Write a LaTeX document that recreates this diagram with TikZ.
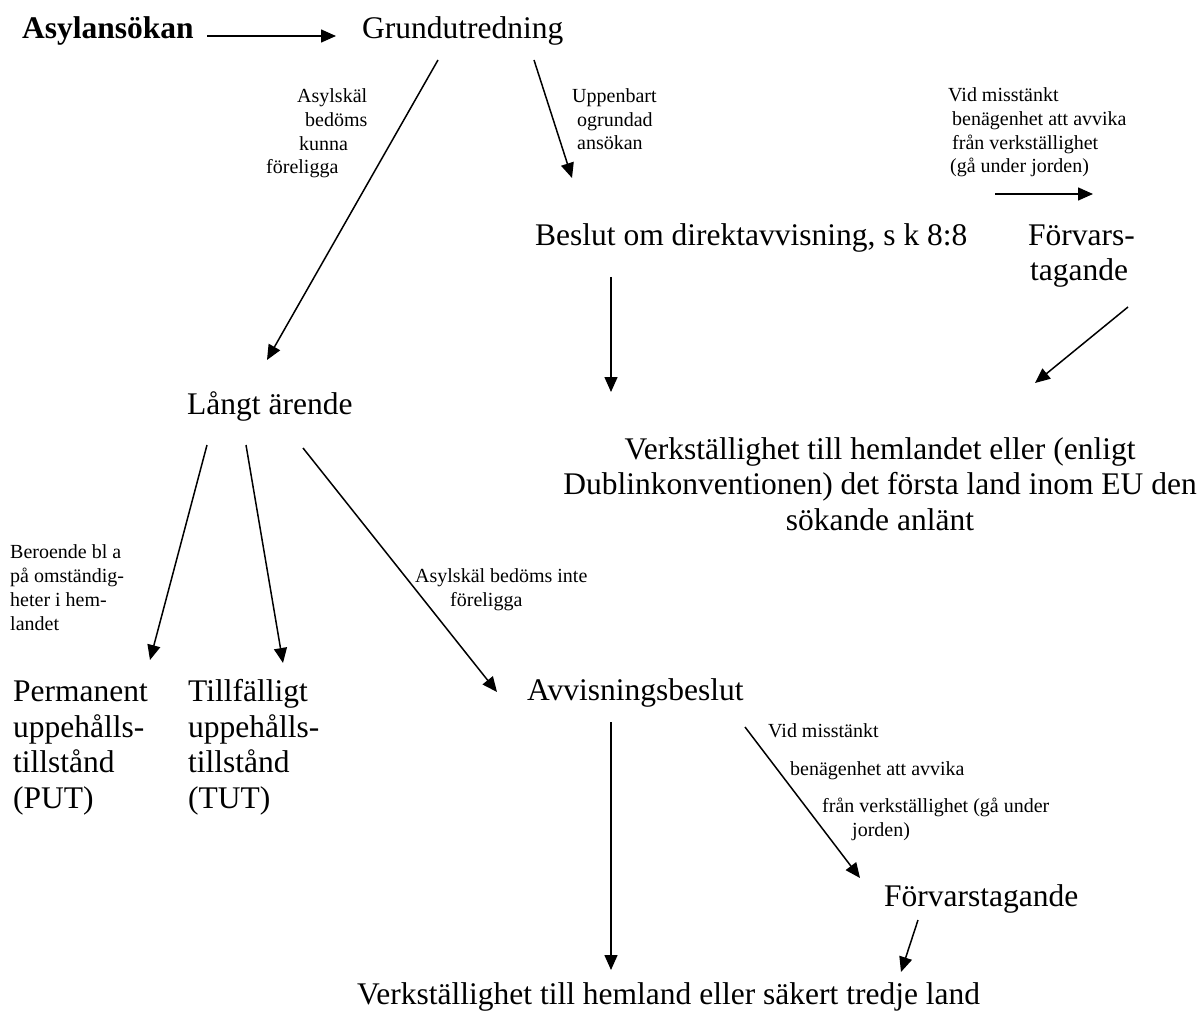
\documentclass[tikz,border=0pt]{standalone}
\usepackage{fontspec}
\setmainfont{Liberation Serif}
\usetikzlibrary{arrows.meta}
\begin{document}
\begin{tikzpicture}[x=1pt,y=-1pt,
  big/.style={inner sep=0pt, anchor=base west, font=\fontsize{31.5}{35.5}\selectfont, align=left},
  small/.style={inner sep=0pt, anchor=base west, font=\fontsize{20}{23.7}\selectfont, align=left},
  arr/.style={line width=1.5pt, -{Triangle[length=15pt,width=13pt]}}]
\useasboundingbox (0,0) rectangle (1203,1019);

% main nodes (multi-line nodes: base = baseline of last line)
\node[big, font=\fontsize{31.5}{35.5}\selectfont\bfseries] (asyl) at (22,39) {Asylansökan};
\node[big] (grund) at (362,39) {Grundutredning};
\node[big] (beslut) at (535,246) {Beslut om direktavvisning, s k 8:8};
\node[big] (forv1) at (1028,281) {Förvars-\\\hspace*{2pt}tagande};
\node[big, align=center, anchor=base] (verk1) at (880,530) {Verkställighet till hemlandet eller (enligt\\Dublinkonventionen) det första land inom EU den\\sökande anlänt};
\node[big] (langt) at (187,414) {Långt ärende};
\node[big] (put) at (13,808) {Permanent\\uppehålls-\\tillstånd\\(PUT)};
\node[big] (tut) at (188,808) {Tillfälligt\\uppehålls-\\tillstånd\\(TUT)};
\node[big] (avv) at (527,700) {Avvisningsbeslut};
\node[big] (forv2) at (884,906) {Förvarstagande};
\node[big] (verk2) at (357,1004) {Verkställighet till hemland eller säkert tredje land};

% labels
\node[small] (l1) at (266,174) {\hspace*{31pt}Asylskäl\\\hspace*{39pt}bedöms\\\hspace*{33pt}kunna\\föreligga};
\node[small] (l2) at (572,150) {Uppenbart\\\hspace*{5pt}ogrundad\\\hspace*{5pt}ansökan};
\node[small] (l3) at (948,173) {Vid misstänkt\\\hspace*{4pt}benägenhet att avvika\\\hspace*{4pt}från verkställighet\\\hspace*{2pt}(gå under jorden)};
\node[small] (l4) at (10,630) {Beroende bl a\\på omständig-\\heter i hem-\\landet};
\node[small] (l5) at (415,606) {Asylskäl bedöms inte\\\hspace*{35pt}föreligga};
\node[small] (l6) at (768,836) {Vid misstänkt\\[14pt]\hspace*{22pt}benägenhet att avvika\\[13pt]\hspace*{54pt}från verkställighet (gå under\\\hspace*{84pt}jorden)};

% arrow endpoints
\coordinate (a1s) at (207,36);   \coordinate (a1e) at (336,36);
\coordinate (a2s) at (438,60);   \coordinate (a2e) at (267,360);
\coordinate (a3s) at (534,60);   \coordinate (a3e) at (572,178);
\coordinate (a4s) at (995,194);  \coordinate (a4e) at (1093,194);
\coordinate (a5s) at (611,277);  \coordinate (a5e) at (611,392);
\coordinate (a6s) at (1128,307); \coordinate (a6e) at (1035,383);
\coordinate (a7s) at (207,445);  \coordinate (a7e) at (150,660);
\coordinate (a8s) at (246,445);  \coordinate (a8e) at (283,663);
\coordinate (a9s) at (303,448);  \coordinate (a9e) at (497,692);
\coordinate (a10s) at (611,722); \coordinate (a10e) at (611,970);
\coordinate (a11s) at (745,727); \coordinate (a11e) at (860,878);
\coordinate (a12s) at (918,920); \coordinate (a12e) at (901,972);

\draw[arr] (a1s) -- (a1e);
\draw[arr] (a2s) -- (a2e);
\draw[arr] (a3s) -- (a3e);
\draw[arr] (a4s) -- (a4e);
\draw[arr] (a5s) -- (a5e);
\draw[arr] (a6s) -- (a6e);
\draw[arr] (a7s) -- (a7e);
\draw[arr] (a8s) -- (a8e);
\draw[arr] (a9s) -- (a9e);
\draw[arr] (a10s) -- (a10e);
\draw[arr] (a11s) -- (a11e);
\draw[arr] (a12s) -- (a12e);
\end{tikzpicture}
\end{document}
